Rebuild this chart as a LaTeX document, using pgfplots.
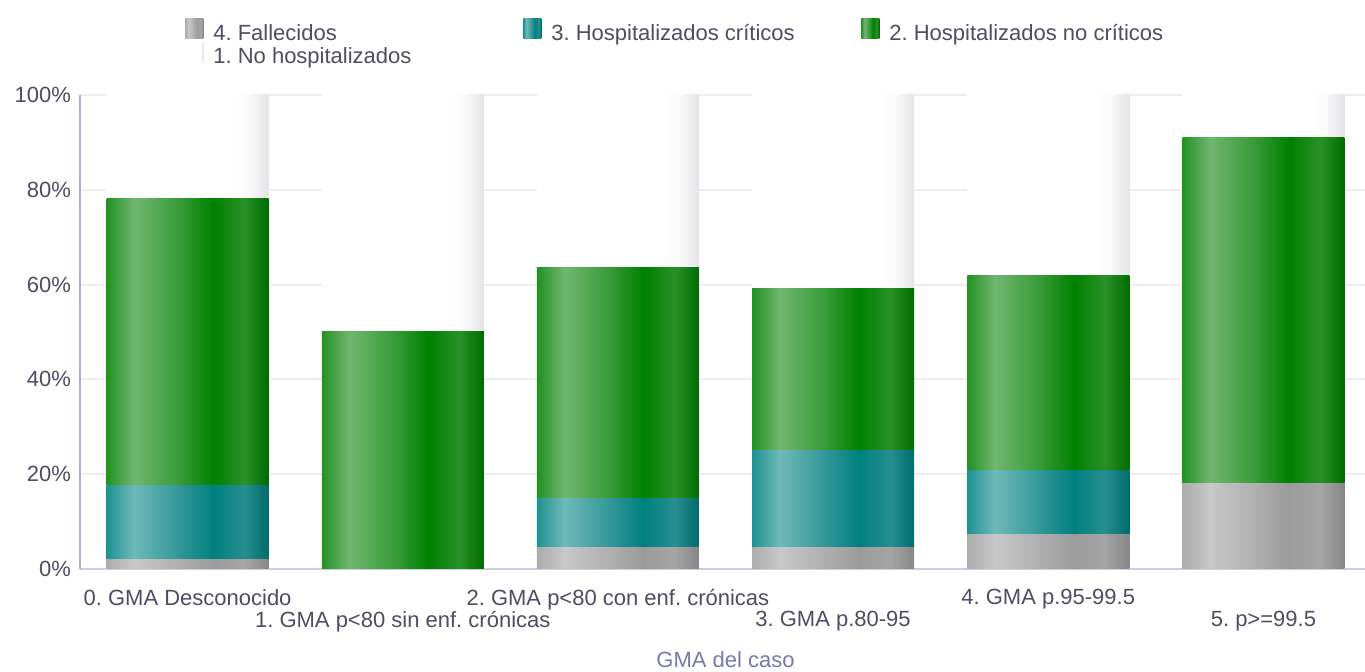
\documentclass[border=0pt]{standalone}
\usepackage{fontspec}
\setmainfont{Liberation Sans}
\usepackage{pgfplots}
\pgfplotsset{compat=1.18}
\usepackage{pgfplotstable}

\definecolor{txt}{RGB}{77,77,99}
\definecolor{xtitle}{RGB}{120,120,170}
\definecolor{gridc}{RGB}{236,236,243}
\definecolor{axisc}{RGB}{175,175,205}
\definecolor{axisb}{RGB}{205,205,225}

\definecolor{g0}{RGB}{35,145,35}
\definecolor{g1}{RGB}{112,182,112}
\definecolor{g2}{RGB}{55,155,55}
\definecolor{g3}{RGB}{0,128,0}
\definecolor{g4}{RGB}{40,145,40}
\definecolor{g5}{RGB}{0,108,0}

\definecolor{t0}{RGB}{30,145,145}
\definecolor{t1}{RGB}{110,185,185}
\definecolor{t2}{RGB}{50,150,150}
\definecolor{t3}{RGB}{0,128,128}
\definecolor{t4}{RGB}{40,142,142}
\definecolor{t5}{RGB}{0,108,108}

\definecolor{a0}{RGB}{172,172,172}
\definecolor{a1}{RGB}{200,200,200}
\definecolor{a2}{RGB}{175,175,175}
\definecolor{a3}{RGB}{155,155,155}
\definecolor{a4}{RGB}{165,165,165}
\definecolor{a5}{RGB}{135,135,135}

\definecolor{w0}{RGB}{255,255,255}
\definecolor{w1}{RGB}{250,250,251}
\definecolor{w2}{RGB}{228,228,231}

\pgfdeclarehorizontalshading{greenshade}{100bp}{color(0bp)=(g0); color(25bp)=(g0); color(33.5bp)=(g1); color(47.5bp)=(g2); color(58bp)=(g3); color(67.5bp)=(g4); color(75bp)=(g5); color(100bp)=(g5)}
\pgfdeclarehorizontalshading{tealshade}{100bp}{color(0bp)=(t0); color(25bp)=(t0); color(33.5bp)=(t1); color(47.5bp)=(t2); color(58bp)=(t3); color(67.5bp)=(t4); color(75bp)=(t5); color(100bp)=(t5)}
\pgfdeclarehorizontalshading{grayshade}{100bp}{color(0bp)=(a0); color(25bp)=(a0); color(33.5bp)=(a1); color(47.5bp)=(a2); color(58bp)=(a3); color(67.5bp)=(a4); color(75bp)=(a5); color(100bp)=(a5)}
\pgfdeclarehorizontalshading{whiteshade}{100bp}{color(0bp)=(w0); color(25bp)=(w0); color(65bp)=(w0); color(69bp)=(w1); color(75bp)=(w2); color(100bp)=(w2)}

\pgfplotstableread{
x fal cri ncr nh
0 2.1 15.6 60.4 21.9
1 0 0 50.2 49.8
2 4.6 10.2 48.9 36.3
3 4.6 20.3 34.2 40.9
4 7.2 13.5 41.3 38.0
5 18.1 0 73.0 8.9
}\datatable

\pgfplotsset{
  swatch/.style={legend image code/.code={\path[##1,draw=none] (0pt,-2.5pt) rectangle (9pt,7.5pt);}},
  frame/.style={scale only axis, width=645.5pt, height=237pt,
    at={(0,0)}, anchor=south west, xmin=-0.5, xmax=5.5, ymin=0, ymax=100}
}

\begin{document}
\frenchspacing
\begin{tikzpicture}[font=\fontsize{11}{13}\selectfont\frenchspacing]
\begin{axis}[
  frame,
  ytick={0,20,40,60,80,100},
  yticklabel={\pgfmathprintnumber{\tick}\%},
  /pgf/number format/assume math mode=true,
  xtick={0,2,4},
  xticklabels={0. GMA Desconocido, 2. GMA p<80 con enf. crónicas, 4. GMA p.95-99.5},
  extra x ticks={1,3,5},
  extra x tick labels={1. GMA p<80 sin enf. crónicas, 3. GMA p.80-95, 5. p>=99.5},
  extra x tick style={xticklabel style={yshift=-11pt}},
  xtick style={draw=none}, ytick style={draw=none},
  xticklabel style={text=txt, yshift=-6.5pt},
  yticklabel style={text=txt, xshift=-1pt},
  ymajorgrids, grid style={gridc, line width=1pt},
  axis lines*=left,
  x axis line style={axisb, line width=1pt},
  y axis line style={axisc, line width=1pt},
  xlabel={GMA del caso},
  xlabel style={text=xtitle, at={(axis description cs:0.5,0)}, anchor=center, yshift=-45.5pt},
  legend columns=3,
  legend cell align=left,
  legend style={at={(0.0813,1.162)}, anchor=north west, draw=none, fill=none,
    inner sep=0pt, text=txt, row sep=-2.5pt,
    /tikz/every even column/.append style={column sep=0pt},
    /tikz/every odd column/.append style={column sep=3pt}},
]
\addlegendimage{draw=none, shading=grayshade, shade, swatch}
\addlegendentry{\makebox[153pt][l]{4. Fallecidos}}
\addlegendimage{draw=none, shading=tealshade, shade, swatch}
\addlegendentry{\makebox[153pt][l]{3. Hospitalizados críticos}}
\addlegendimage{draw=none, shading=greenshade, shade, swatch}
\addlegendentry{\makebox[153pt][l]{2. Hospitalizados no críticos}}
\addlegendimage{draw=none, shading=whiteshade, shade, swatch}
\addlegendentry{\makebox[153pt][l]{1. No hospitalizados}}
\end{axis}
\pgfplotsinvokeforeach{0,...,5}{
\begin{axis}[frame, hide axis, ybar stacked, bar width=81pt]
  \addplot[draw=none, shading=grayshade, shade, restrict x to domain=#1:#1] table[x=x, y=fal] {\datatable};
  \addplot[draw=none, shading=tealshade, shade, restrict x to domain=#1:#1] table[x=x, y=cri] {\datatable};
  \addplot[draw=none, shading=greenshade, shade, restrict x to domain=#1:#1] table[x=x, y=ncr] {\datatable};
  \addplot[draw=none, shading=whiteshade, shade, restrict x to domain=#1:#1] table[x=x, y=nh] {\datatable};
\end{axis}
}
\pgfresetboundingbox
\path[use as bounding box] (-40pt,-51.5pt) rectangle (642.5pt,284.5pt);
\end{tikzpicture}
\end{document}
